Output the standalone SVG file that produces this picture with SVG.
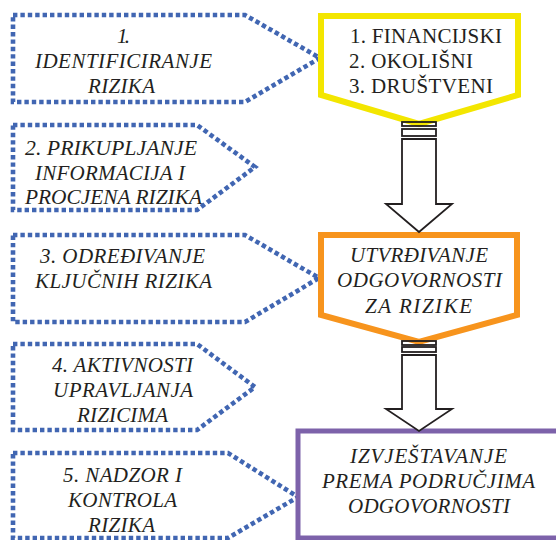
<svg xmlns="http://www.w3.org/2000/svg" width="556" height="540" viewBox="0 0 556 540">
<style>
.dot{fill:none;stroke:#4166b2;stroke-width:4.6;stroke-dasharray:4.4 3}
.t{font-family:"Liberation Serif","Times New Roman",serif;font-size:21px;font-style:italic;fill:#231f20}
.u{font-family:"Liberation Serif","Times New Roman",serif;font-size:21px;fill:#231f20}
.arr{fill:#fff;stroke:#231f20;stroke-width:1.8;stroke-linejoin:miter}
</style>
<rect width="556" height="540" fill="#fff"/>
<g id="box1">
<path class="dot" d="M13,15 H245 L320,58 L245,102 H13 Z"/>
<text class="t" x="117" y="43" textLength="13" lengthAdjust="spacing">1.</text>
<text class="t" x="35" y="68" textLength="177" lengthAdjust="spacing">IDENTIFICIRANJE</text>
<text class="t" x="88" y="93" textLength="67" lengthAdjust="spacing">RIZIKA</text>
</g>
<g id="box2">
<path class="dot" d="M13,125 H197 L255,167 L197,210 H13 Z"/>
<text class="t" x="25" y="155" textLength="172" lengthAdjust="spacingAndGlyphs">2. PRIKUPLJANJE</text>
<text class="t" x="35" y="180" textLength="150" lengthAdjust="spacing">INFORMACIJA I</text>
<text class="t" x="25" y="204" textLength="177" lengthAdjust="spacingAndGlyphs">PROCJENA RIZIKA</text>
</g>
<g id="box3">
<path class="dot" d="M13,235 H245 L319,278 L245,322 H13 Z"/>
<text class="t" x="40" y="263" textLength="165" lengthAdjust="spacing">3. ODREĐIVANJE</text>
<text class="t" x="35" y="288" textLength="177" lengthAdjust="spacing">KLJUČNIH RIZIKA</text>
</g>
<g id="box4">
<path class="dot" d="M13,344 H197 L255,387 L197,430 H13 Z"/>
<text class="t" x="52" y="372" textLength="141" lengthAdjust="spacing">4. AKTIVNOSTI</text>
<text class="t" x="53" y="397" textLength="140" lengthAdjust="spacing">UPRAVLJANJA</text>
<text class="t" x="77" y="422" textLength="91" lengthAdjust="spacing">RIZICIMA</text>
</g>
<g id="box5">
<path class="dot" d="M13,453 H228 L298,497 L228,538 H13 Z"/>
<text class="t" x="63" y="482" textLength="119" lengthAdjust="spacing">5. NADZOR I</text>
<text class="t" x="68" y="507" textLength="109" lengthAdjust="spacing">KONTROLA</text>
<text class="t" x="88" y="532" textLength="67" lengthAdjust="spacing">RIZIKA</text>
</g>
<g id="types">
<path d="M321,16 H518 V95 L419,124 L321,95 Z" fill="#fff" stroke="#f3e600" stroke-width="6"/>
<text class="u" x="350" y="43" textLength="152" lengthAdjust="spacing">1. FINANCIJSKI</text>
<text class="u" x="349" y="68" textLength="124" lengthAdjust="spacing">2. OKOLIŠNI</text>
<text class="u" x="349" y="93" textLength="144" lengthAdjust="spacing">3. DRUŠTVENI</text>
</g>
<g id="responsibility">
<path d="M321,235 H517 V315 L419,342 L321,315 Z" fill="#fff" stroke="#f7941d" stroke-width="6"/>
<text class="t" x="350" y="262" textLength="138" lengthAdjust="spacing">UTVRĐIVANJE</text>
<text class="t" x="337" y="287" textLength="165" lengthAdjust="spacing">ODGOVORNOSTI</text>
<text class="t" x="365" y="313" textLength="107" lengthAdjust="spacing">ZA RIZIKE</text>
</g>
<g id="reporting">
<rect x="298" y="431" width="266" height="107" fill="#fff" stroke="#7d62aa" stroke-width="5"/>
<text class="t" x="350" y="463" textLength="157" lengthAdjust="spacing">IZVJEŠTAVANJE</text>
<text class="t" x="322" y="488" textLength="213" lengthAdjust="spacing">PREMA PODRUČJIMA</text>
<text class="t" x="348" y="513" textLength="162" lengthAdjust="spacing">ODGOVORNOSTI</text>
</g>
<g id="connectors">
<rect x="402" y="122" width="34" height="4" fill="none" stroke="#231f20" stroke-width="1.8"/>
<rect class="arr" x="402" y="129" width="34" height="7"/>
<path class="arr" d="M402,139 H436 V204 H452 L419,232 L386,204 H402 Z"/>
<rect x="402" y="341" width="34" height="4" fill="none" stroke="#231f20" stroke-width="1.8"/>
<rect class="arr" x="402" y="347" width="34" height="5"/>
<path class="arr" d="M402,355 H436 V409 H452 L419,431 L386,409 H402 Z"/>
</g>
</svg>
